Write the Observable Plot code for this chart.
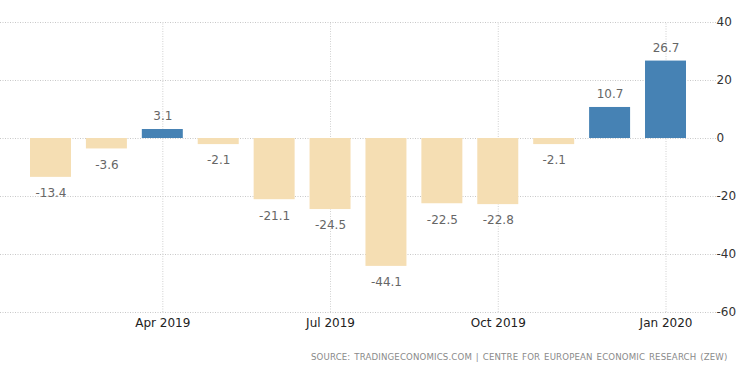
<!DOCTYPE html>
<html>
<head>
<meta charset="utf-8">
<script src="https://cdn.jsdelivr.net/npm/d3@7"></script>
<script src="https://cdn.jsdelivr.net/npm/@observablehq/plot@0.6"></script>
<style>
  html, body { margin: 0; padding: 0; background: #fff; }
  #chart svg { display: block; }
</style>
</head>
<body>
<div id="chart"></div>
<script>
const months = ["Feb 2019","Mar 2019","Apr 2019","May 2019","Jun 2019","Jul 2019","Aug 2019","Sep 2019","Oct 2019","Nov 2019","Dec 2019","Jan 2020"];
const values = [-13.4, -3.6, 3.1, -2.1, -21.1, -24.5, -44.1, -22.5, -22.8, -2.1, 10.7, 26.7];
const xTicks = ["Apr 2019","Jul 2019","Oct 2019","Jan 2020"];
const yTicks = [40, 20, 0, -20, -40, -60];
const source = "SOURCE: TRADINGECONOMICS.COM | CENTRE FOR EUROPEAN ECONOMIC RESEARCH (ZEW)";

const data = months.map((m, i) => ({month: m, value: values[i]}));

const chart = Plot.plot({
  width: 750,
  height: 373,
  marginTop: 22,
  marginBottom: 61,
  marginLeft: 0,
  marginRight: 34,
  style: {fontFamily: "DejaVu Sans", background: "#fff"},
  x: {domain: months, range: [30, 686], paddingInner: 0.267, paddingOuter: 0, round: false, axis: null},
  y: {domain: [-60, 40], axis: null},
  marks: [
    Plot.ruleY(yTicks, {stroke: "#c8c8c8", strokeDasharray: "1,1.5"}),
    Plot.ruleX(xTicks, {x: d => d, y1: -60, y2: 40, stroke: "#d0d0d0", strokeDasharray: "1,1.5"}),
    Plot.barY(data, {x: "month", y: "value", fill: d => d.value >= 0 ? "#4682b4" : "#f5deb3"}),
    Plot.text(data.filter(d => d.value >= 0), {
      x: "month", y: "value", text: d => d.value.toFixed(1),
      dy: -13, fill: "#666", fontSize: 12
    }),
    Plot.text(data.filter(d => d.value < 0), {
      x: "month", y: "value", text: d => d.value.toFixed(1),
      dy: 16, fill: "#666", fontSize: 12
    }),
    Plot.axisY(yTicks, {anchor: "right", tickSize: 0, tickPadding: 0, fontSize: 12, fill: "#333", textAnchor: "start", tickFormat: d => String(d), label: null}),
    Plot.axisX(xTicks, {anchor: "bottom", tickSize: 0, tickPadding: 6, fontSize: 12, fill: "#222", label: null}),
    Plot.text([source], {
      frameAnchor: "bottom-right", text: d => d, dy: 47, dx: 11,
      fontSize: 8.6, fill: "#8a8a8a", textAnchor: "end"
    })
  ]
});
d3.select(chart).selectAll("text")
  .filter(function() { return this.textContent === source; })
  .style("letter-spacing", "0.15px")
  .style("word-spacing", "1px");
document.getElementById("chart").append(chart);
</script>
</body>
</html>
